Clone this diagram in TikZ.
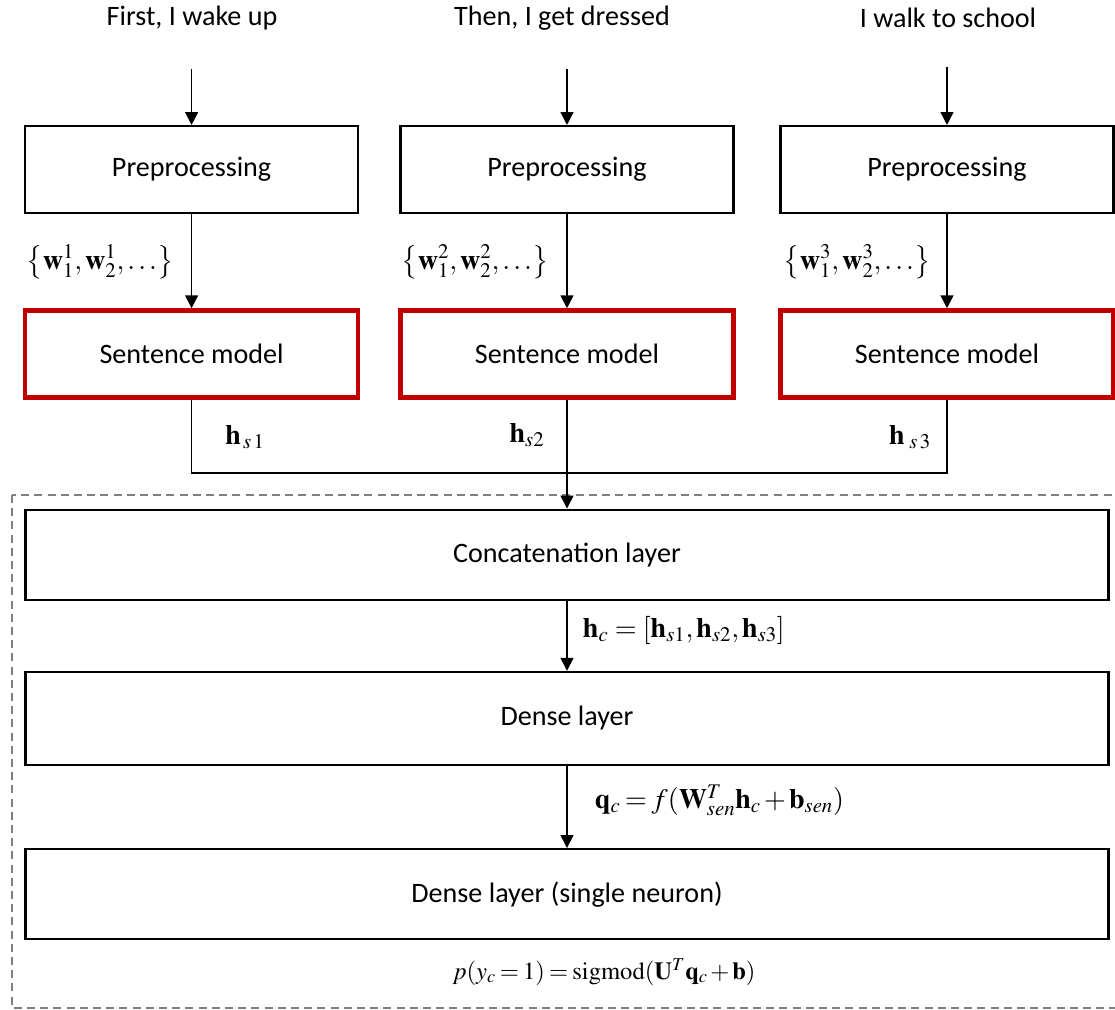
\documentclass[tikz,border=0pt]{standalone}
\usepackage{mathptmx}
\usepackage[no-math]{fontspec}
\setmainfont{Carlito}
\usetikzlibrary{arrows.meta, positioning}
\definecolor{modelred}{RGB}{192,0,0}

\begin{document}
\begin{tikzpicture}[
  font=\fontsize{20}{24}\selectfont,
  box/.style={draw, line width=1.6pt, align=center, minimum height=2.175cm, minimum width=8.325cm},
  redbox/.style={box, draw=modelred, line width=3.2pt},
  widebox/.style={draw, line width=1.6pt, align=center, minimum height=2.25cm, minimum width=27.075cm},
  arrow/.style={-{Triangle[length=3.2mm, width=3.2mm]}, line width=1.1pt},
  inarrow/.style={arrow, shorten <=0.85cm},
  link/.style={line width=1.1pt},
  frame/.style={draw=gray, line width=0.8pt, dash pattern=on 2mm off 1.3mm},
  tight/.style={execute at begin node={\thickmuskip=3mu plus 1mu\medmuskip=2mu}},
  node distance=2.35cm
]
\useasboundingbox (0,0) rectangle (27.875,-25.25);

% inputs
\node (in1) at (4.8,-0.45) {First, I wake up};
\node (in2) at (14.05,-0.45) {Then, I get dressed};
\node (in3) at (23.7,-0.45) {I walk to school};

\node[box] (pre1) at (4.79,-4.24) {Preprocessing};
\node[box] (pre2) at (14.175,-4.24) {Preprocessing};
\node[box] (pre3) at (23.675,-4.24) {Preprocessing};

\node[redbox, below=of pre1] (sm1) {Sentence model};
\node[redbox, below=of pre2] (sm2) {Sentence model};
\node[redbox, below=of pre3] (sm3) {Sentence model};

\coordinate (join) at (14.175,-11.825);

% shared part
\node[widebox, below=2.72cm of sm2] (concat) {Concatenation layer};
\node[widebox, below=1.75cm of concat, minimum height=2.325cm] (dense) {Dense layer};
\node[widebox, below=2.05cm of dense] (single) {Dense layer (single neuron)};

\draw[frame] (0.3,-12.375) rectangle (27.95,-25.2);

\draw[inarrow] (in1.south -| pre1.north) -- (pre1);
\draw[inarrow] (in2.south -| pre2.north) -- (pre2);
\draw[inarrow] (in3.south -| pre3.north) -- (pre3);
\draw[arrow] (pre1) -- (sm1);
\draw[arrow] (pre2) -- (sm2);
\draw[arrow] (pre3) -- (sm3);
\draw[link] (sm1) |- (join);
\draw[link] (sm3) |- (join);
\draw[arrow] (sm2) -- (concat);
\draw[arrow] (concat) -- (dense);
\draw[arrow] (dense) -- (single);

% labels
\node (w1) at (2.5,-6.55) {$\left\{\mathbf{w}_1^1, \mathbf{w}_2^1, \ldots\right\}$};
\node (w2) at (11.875,-6.55) {$\left\{\mathbf{w}_1^2, \mathbf{w}_2^2, \ldots\right\}$};
\node (w3) at (21.425,-6.55) {$\left\{\mathbf{w}_1^3, \mathbf{w}_2^3, \ldots\right\}$};
\node (hs1) at (6.125,-10.925) {$\mathbf{h}_{\,s\,1}$};
\node (hs2) at (13.175,-10.875) {$\mathbf{h}_{s2}$};
\node (hs3) at (22.75,-10.925) {$\mathbf{h}_{\;s\,3}$};
\node[anchor=west] (hc) at (14.45,-15.75) {$\mathbf{h}_c = \left[\mathbf{h}_{s1}, \mathbf{h}_{s2}, \mathbf{h}_{s3}\right]$};
\node[anchor=west, tight] (qc) at (14.75,-20.0) {$\mathbf{q}_c = f(\mathbf{W}_{sen}^T \mathbf{h}_c + \mathbf{b}_{sen})$};
\node[tight, font=\fontsize{17.5}{21}\selectfont] (py) at (15.1,-24.3) {$p(y_c = 1) = \mathrm{sigmod}(\mathbf{U}^T \mathbf{q}_c + \mathbf{b})$};
\end{tikzpicture}
\end{document}
